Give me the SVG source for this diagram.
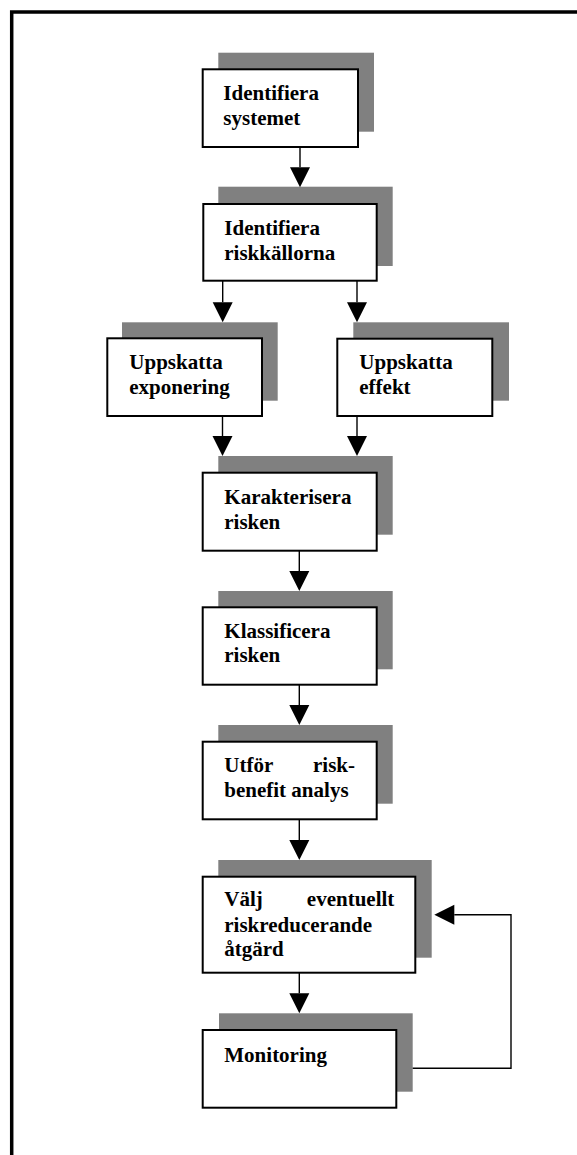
<svg xmlns="http://www.w3.org/2000/svg" width="577" height="1155" viewBox="0 0 577 1155">
  <style>
    .shadow { fill: #808080; }
    .box { fill: #ffffff; stroke: #000000; stroke-width: 2; }
    .label { font-family: "Liberation Serif", "Times New Roman", serif; font-weight: bold; font-size: 21px; fill: #000000; }
    .conn { fill: none; stroke: #000000; stroke-width: 1.4; }
    .frame { fill: none; stroke: #000000; stroke-width: 3.5; }
  </style>
  <defs>
    <marker id="head" markerUnits="userSpaceOnUse" markerWidth="20" markerHeight="20" refX="0" refY="10" orient="auto" overflow="visible">
      <path d="M0,0 L20,10 L0,20 Z" fill="#000000"/>
    </marker>
  </defs>

  <rect x="0" y="0" width="577" height="1155" fill="#ffffff"/>

  <!-- page frame -->
  <path class="frame" d="M11.7,1160 V12 H580"/>

  <!-- process steps -->
  <g id="identifiera-systemet">
    <rect class="shadow" x="218.3" y="52.7" width="155.7" height="79"/>
    <rect class="box" x="202.7" y="69.3" width="155.3" height="77.7"/>
    <text class="label" x="223.3" y="100">Identifiera</text>
    <text class="label" x="223.3" y="125">systemet</text>
  </g>

  <g id="identifiera-riskkallorna">
    <rect class="shadow" x="218.3" y="186.7" width="174.4" height="79.3"/>
    <rect class="box" x="203.3" y="204" width="173.4" height="76.7"/>
    <text class="label" x="224.3" y="235">Identifiera</text>
    <text class="label" x="224.3" y="260">riskkällorna</text>
  </g>

  <g id="uppskatta-exponering">
    <rect class="shadow" x="122" y="322.3" width="155.7" height="78.4"/>
    <rect class="box" x="107.3" y="338.3" width="154.7" height="77.7"/>
    <text class="label" x="129.3" y="368.5">Uppskatta</text>
    <text class="label" x="129.3" y="393.5">exponering</text>
  </g>

  <g id="uppskatta-effekt">
    <rect class="shadow" x="353.3" y="322.3" width="155.7" height="78.4"/>
    <rect class="box" x="337.3" y="338.7" width="155" height="77.3"/>
    <text class="label" x="359.3" y="368.5">Uppskatta</text>
    <text class="label" x="359.3" y="393.5">effekt</text>
  </g>

  <g id="karakterisera-risken">
    <rect class="shadow" x="218.3" y="456" width="174.4" height="78.7"/>
    <rect class="box" x="202.7" y="472.7" width="174" height="78"/>
    <text class="label" x="224.3" y="504">Karakterisera</text>
    <text class="label" x="224.3" y="528.5">risken</text>
  </g>

  <g id="klassificera-risken">
    <rect class="shadow" x="218.3" y="591" width="174.4" height="78.3"/>
    <rect class="box" x="202.7" y="607.3" width="174" height="77.4"/>
    <text class="label" x="224.3" y="637.5">Klassificera</text>
    <text class="label" x="224.3" y="662">risken</text>
  </g>

  <g id="risk-benefit">
    <rect class="shadow" x="218.3" y="725" width="174.4" height="78.7"/>
    <rect class="box" x="202.7" y="741.7" width="174" height="77.6"/>
    <text class="label" x="224.3" y="771.7">Utför</text>
    <text class="label" x="355" y="771.7" text-anchor="end">risk-</text>
    <text class="label" x="224.3" y="797">benefit analys</text>
  </g>

  <g id="riskreducerande-atgard">
    <rect class="shadow" x="218.3" y="860" width="213.4" height="97.7"/>
    <rect class="box" x="202.7" y="876.7" width="212.6" height="96"/>
    <text class="label" x="224.3" y="906">Välj</text>
    <text class="label" x="394.3" y="906" text-anchor="end">eventuellt</text>
    <text class="label" x="224.3" y="931.5">riskreducerande</text>
    <text class="label" x="224.3" y="956">åtgärd</text>
  </g>

  <g id="monitoring">
    <rect class="shadow" x="219" y="1013.3" width="193.7" height="78.4"/>
    <rect class="box" x="202.7" y="1030" width="193.6" height="77.7"/>
    <text class="label" x="224.3" y="1061.7">Monitoring</text>
  </g>

  <!-- connectors: lines stop at the arrowhead base, heads drawn by marker -->
  <g id="connectors">
    <path class="conn" marker-end="url(#head)" d="M300,147 V167.3"/>
    <path class="conn" marker-end="url(#head)" d="M222.7,280.7 V302.3"/>
    <path class="conn" marker-end="url(#head)" d="M357,280.7 V302.3"/>
    <path class="conn" marker-end="url(#head)" d="M222.5,416 V436"/>
    <path class="conn" marker-end="url(#head)" d="M357,416 V436"/>
    <path class="conn" marker-end="url(#head)" d="M299.3,550.7 V571"/>
    <path class="conn" marker-end="url(#head)" d="M299.3,684.7 V705"/>
    <path class="conn" marker-end="url(#head)" d="M299.3,819.3 V840"/>
    <path class="conn" marker-end="url(#head)" d="M299.3,972.7 V993.3"/>
    <path class="conn" marker-end="url(#head)" d="M412.7,1068.3 H511 V914.7 H454.3"/>
  </g>
</svg>
